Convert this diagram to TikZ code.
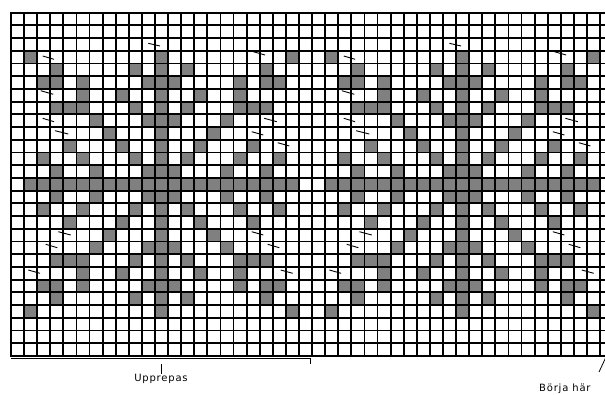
\documentclass[tikz,border=0pt]{standalone}
\usepackage{fontspec}
\setmainfont{DejaVu Sans}
\newfontfamily\labelfont[LetterSpace=8]{DejaVu Sans}
\definecolor{cellgray}{RGB}{128,128,128}
\tikzset{
  gridline/.style={line width=1.85pt, black, line cap=rect},
  knitmark/.style={line width=0.9pt, black},
  bracket/.style={line width=0.8pt, black},
  lbl/.style={font=\labelfont\fontsize{10}{12}\selectfont, inner sep=0pt}
}
\begin{document}
\begin{tikzpicture}[x=1pt,y=-1pt]
\def\W{13.09}
\def\H{12.71}
\def\X{11}
\def\Y{12.7}
\useasboundingbox (0,0) rectangle (605,394);
\fill[white] (0,0) rectangle (605,394);
\clip (0,0) rectangle (605,394);
% gray cells: one quarter of the motif, mirrored and repeated
\foreach \r/\c in {3/1,3/11,
  4/3,4/9,4/11,
  5/2,5/3,5/5,5/10,5/11,
  6/5,6/8,6/11,
  7/3,7/4,7/5,7/9,7/11,
  8/6,8/10,8/11,
  9/7,9/11,
  10/4,10/8,10/11,
  11/2,11/5,11/9,11/11,
  12/3,12/6,12/10,12/11,
  13/1,13/2,13/3,13/4,13/5,13/6,13/7,13/8,13/9,13/10,13/11}{
  \foreach \cc in {\c, 22-\c, 23+\c, 45-\c}{
    \foreach \rr in {\r, 26-\r}{
      \fill[cellgray] ({\X+(\cc)*\W},{\Y+(\rr)*\H}) rectangle ++(\W,\H);
    }
  }
}
% grid
\foreach \i in {0,...,46}{
  \draw[gridline] ({\X+\i*\W},\Y) -- ++(0,{27*\H});
}
\foreach \j in {0,...,27}{
  \draw[gridline] (\X,{\Y+\j*\H}) -- ++({46*\W},0);
}
% small slanted marks
\foreach \s in {0,301.07}{
  \foreach \xa/\ya/\xb/\yb in {42.7/56/54/59.3, 148.3/43.3/160/46, 40.7/90.7/53.3/94.3,
    253.3/51.7/265/55, 42.7/118.3/54/121.7, 55/130.7/68.3/134,
    264.3/118.3/276.7/121.7, 251.7/131.7/263.3/135, 277.7/142.7/289.3/146,
    58.3/231.7/70.7/235, 45.7/244.3/57.3/247.7, 28.3/270/40/273.3,
    251.7/231.7/263.3/235, 267.7/244.3/279.3/247.7, 280.7/270/292.7/273.3}{
    \draw[knitmark] ({\xa+\s},\ya) -- ({\xb+\s},\yb);
  }
}
% bracket and labels
\coordinate (bl) at (11,358);
\coordinate (br) at (310,358);
\coordinate (bm) at (161,364);
\draw[bracket] (bl) |- (br);
\draw[bracket] (br) -- ++(0,6);
\node[lbl, anchor=base] (upp) at (161,381) {Upprepas};
\draw[bracket] (bm) -- (upp.north);
\node[lbl, anchor=base west] (borja) at (539,391) {Börja här};
\coordinate (tk1) at (599,372);
\coordinate (tk2) at (606,357);
\draw[bracket] (tk1) -- (tk2);
\end{tikzpicture}
\end{document}
